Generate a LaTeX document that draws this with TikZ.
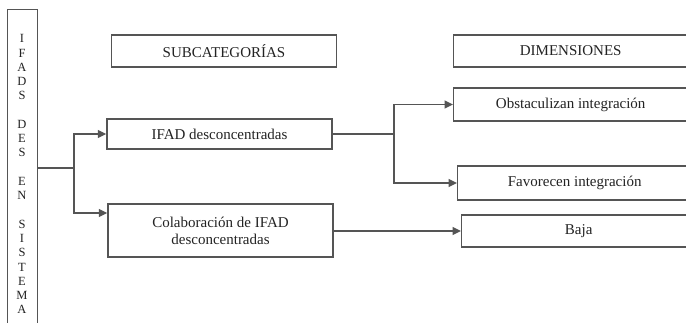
\documentclass[tikz,border=0pt]{standalone}
\usepackage{fontspec}
\setmainfont{Liberation Serif}
\usetikzlibrary{arrows.meta}
\definecolor{ink}{RGB}{85,85,85}
\definecolor{txt}{RGB}{35,35,35}
\begin{document}
\begin{tikzpicture}[x=1pt,y=-1pt,
  box/.style={draw=ink, line width=1.4pt, minimum width=225pt, inner sep=0pt,
    font=\fontsize{15}{17}\selectfont, text=txt},
  wide/.style={minimum width=234pt, anchor=west},
  link/.style={draw=ink, line width=1.4pt},
  arr/.style={link, -{Triangle[length=8.5pt,width=8pt]}}]
\useasboundingbox[fill=white] (0,0) rectangle (686,322);

% vertical title column
\node[draw=ink, line width=1.4pt, minimum width=30pt, minimum height=330pt,
      anchor=north west, inner sep=0pt] (sys) at (7,9) {};
\node[text=txt, align=center, inner sep=0pt, anchor=north,
      font=\fontsize{12.5}{14.26}\selectfont] (syslbl) at (22,34.5)
  {I\\F\\A\\D\\S\\~\\D\\E\\S\\~\\E\\N\\~\\S\\I\\S\\T\\E\\M\\A};

% subcategories
\node[box, minimum height=32pt] (subcat) at (224,51) {SUBCATEGORÍAS};
\node[box, minimum height=30pt] (ifad) at (219.5,134) {IFAD desconcentradas};
\node[box, minimum height=53pt, align=center] (colab) at (220.5,230.5)
  {Colaboración de IFAD\\desconcentradas};

% dimensions
\node[box, wide, minimum height=32pt] (dim) at (453,51) {DIMENSIONES};
\node[box, wide, minimum height=33pt] (obst) at (453,104.5) {Obstaculizan integración};
\node[box, wide, minimum height=34pt] (fav) at (457,183) {Favorecen integración};
\node[box, wide, minimum height=32pt] (baja) at (461,231) {Baja};

% connectors
\coordinate (j1) at (74,168);
\coordinate (j1b) at (74,213);
\draw[link] (sys.east |- j1) -- (j1);
\draw[arr] (j1) |- (ifad.west);
\draw[arr] (j1) -- (j1b) -- (colab.west |- j1b);

\coordinate (j2) at (394,134);
\draw[link] (ifad.east) -- (j2);
\draw[arr] (j2) |- (obst.west);
\draw[arr] (j2) |- (fav.west);

\coordinate (j3) at (333,231);
\draw[arr] (colab.east |- j3) -- (baja.west);
\end{tikzpicture}
\end{document}
